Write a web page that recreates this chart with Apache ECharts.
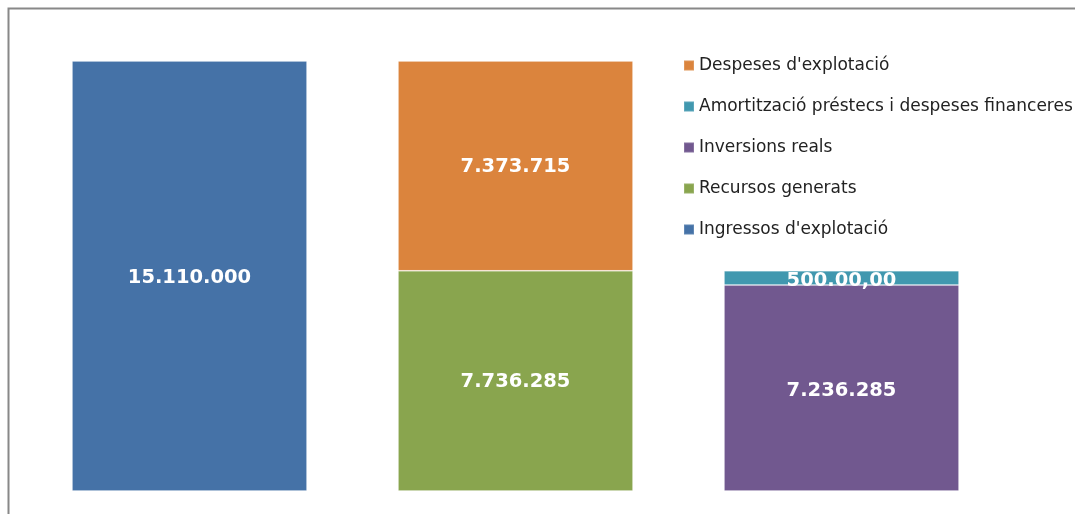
<!DOCTYPE html>
<html>
<head>
<meta charset="utf-8">
<script src="https://cdn.jsdelivr.net/npm/echarts@6/dist/echarts.min.js"></script>
<style>
html,body{margin:0;padding:0;background:#fff;}
#chart{width:1075px;height:514px;}
</style>
</head>
<body>
<div id="chart"></div>
<script>
const categories = ['A', 'B', 'C'];
const seriesNames = ['Ingressos d\'explotació', 'Recursos generats', 'Despeses d\'explotació', 'Inversions reals', 'Amortització préstecs i despeses financeres'];
const ingressos = [15110000, '-', '-'];
const recursos = ['-', 7736285, '-'];
const despeses = ['-', 7373715, '-'];
const inversions = ['-', '-', 7236285];
const amortitzacio = ['-', '-', 500000];
const labelTexts = ['15.110.000', '7.736.285', '7.373.715', '7.236.285', '500.00,00'];
const colors = ['#4572A7', '#89A54E', '#DB843D', '#71588F', '#4198AF'];
const legendOrder = ['Despeses d\'explotació', 'Amortització préstecs i despeses financeres', 'Inversions reals', 'Recursos generats', 'Ingressos d\'explotació'];

const dataSets = [ingressos, recursos, despeses, inversions, amortitzacio];
const labelOffsets = [[0, 2], [0, 1], [0, 1], [0, 3], [0, 3]];
const chart = echarts.init(document.getElementById('chart'));
chart.setOption({
  animation: false,
  graphic: [{
    type: 'rect', shape: {x: 8.5, y: 8.5, width: 1200, height: 700},
    style: {fill: 'none', stroke: '#888', lineWidth: 2}, silent: true
  }],
  legend: {
    orient: 'vertical', left: 683, top: 57, itemGap: 24, padding: 0,
    itemWidth: 10, itemHeight: 10, icon: 'rect',
    data: legendOrder,
    textStyle: {fontFamily: 'DejaVu Sans', fontSize: 17, color: '#222'}
  },
  grid: {left: 26.5, right: 70.5, top: 61, bottom: 23},
  xAxis: {type: 'category', data: categories, show: false},
  yAxis: {type: 'value', min: 0, max: 15110000, show: false},
  series: dataSets.map((d, i) => ({
    name: seriesNames[i], type: 'bar', stack: 'total', data: d,
    barWidth: 235,
    itemStyle: {color: colors[i], borderColor: 'rgba(255,255,255,0.15)', borderWidth: 1},
    label: {show: true, position: 'inside', offset: labelOffsets[i], formatter: () => labelTexts[i],
      color: '#fff', fontFamily: 'DejaVu Sans', fontWeight: 'bold', fontSize: 19.5}
  }))
});
</script>
</body>
</html>
